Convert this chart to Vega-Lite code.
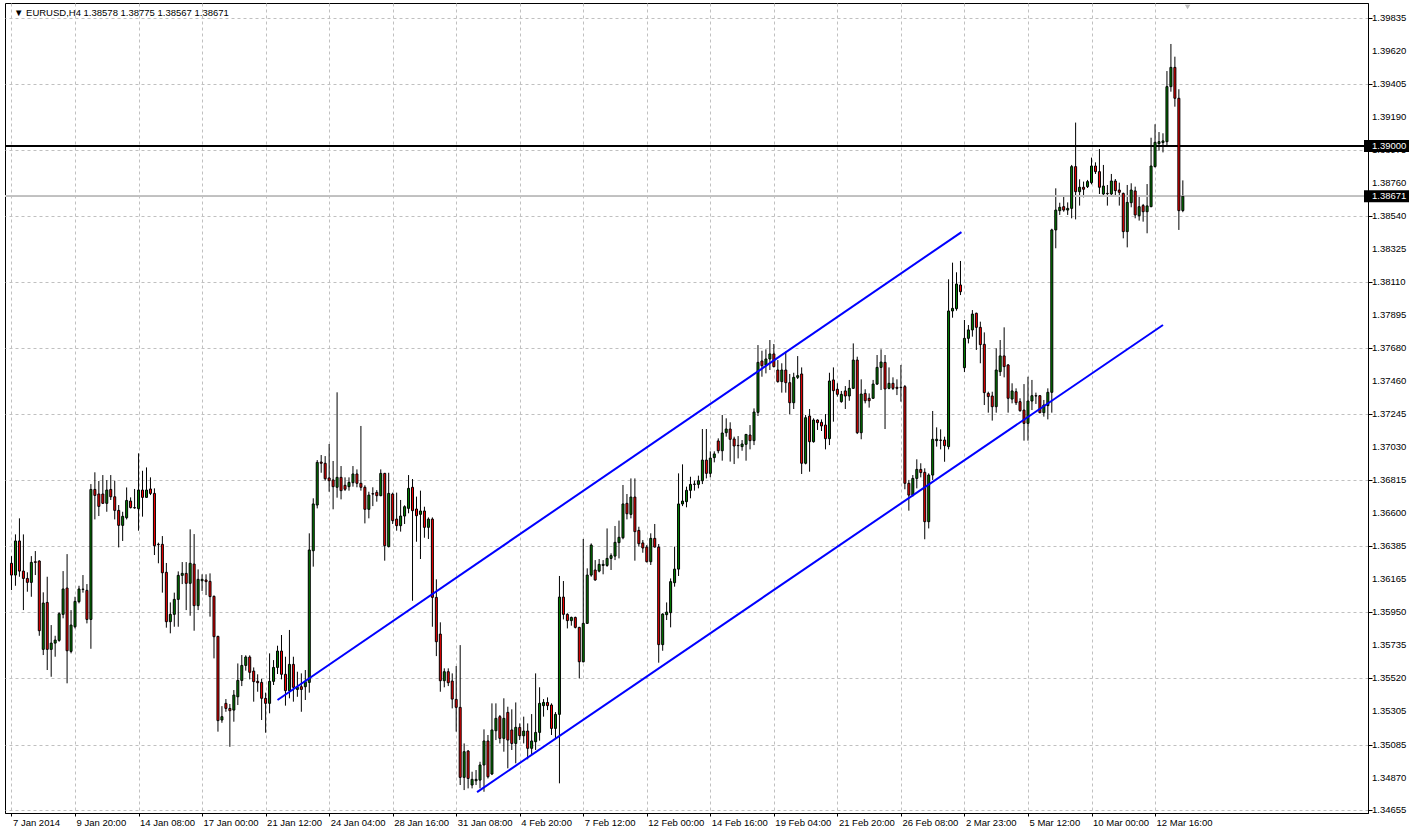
{
"$schema":"https://vega.github.io/schema/vega-lite/v6.json",
"width":1363,"height":810,
"padding":{"left":4,"top":3,"right":0,"bottom":0},
"background":"white",
"config":{"view":{"stroke":"#000000","strokeWidth":1},
"axis":{"gridColor":"#c0c0c0","gridDash":[3,3],"gridWidth":1,"domainColor":"#000000","tickColor":"#000000","labelColor":"#000000","labelFont":"Liberation Sans","labelFontSize":9.5,"title":null,"tickSize":4,"labelOverlap":false}},
"datasets":{
"candles":[
{"i":0,"o":1.36271,"h":1.36318,"l":1.36096,"c":1.36194},
{"i":1,"o":1.36194,"h":1.36460,"l":1.36124,"c":1.36417},
{"i":2,"o":1.36417,"h":1.36565,"l":1.36183,"c":1.36220},
{"i":3,"o":1.36220,"h":1.36460,"l":1.35965,"c":1.36172},
{"i":4,"o":1.36172,"h":1.36212,"l":1.36085,"c":1.36146},
{"i":5,"o":1.36146,"h":1.36318,"l":1.36052,"c":1.36277},
{"i":6,"o":1.36281,"h":1.36351,"l":1.36194,"c":1.36277},
{"i":7,"o":1.36286,"h":1.36290,"l":1.35797,"c":1.35830},
{"i":8,"o":1.35708,"h":1.36081,"l":1.35671,"c":1.36011},
{"i":9,"o":1.36015,"h":1.36183,"l":1.35573,"c":1.35708},
{"i":10,"o":1.35708,"h":1.35867,"l":1.35529,"c":1.35749},
{"i":11,"o":1.35749,"h":1.35797,"l":1.35660,"c":1.35769},
{"i":12,"o":1.35767,"h":1.35950,"l":1.35758,"c":1.35941},
{"i":13,"o":1.35937,"h":1.36220,"l":1.35911,"c":1.36103},
{"i":14,"o":1.36109,"h":1.36331,"l":1.35486,"c":1.35699},
{"i":15,"o":1.35695,"h":1.35965,"l":1.35682,"c":1.35867},
{"i":16,"o":1.35856,"h":1.36052,"l":1.35845,"c":1.36022},
{"i":17,"o":1.36020,"h":1.36124,"l":1.36009,"c":1.36103},
{"i":18,"o":1.36100,"h":1.36194,"l":1.36079,"c":1.36102},
{"i":19,"o":1.36094,"h":1.36135,"l":1.35878,"c":1.35904},
{"i":20,"o":1.35904,"h":1.36789,"l":1.35712,"c":1.36754},
{"i":21,"o":1.36754,"h":1.36866,"l":1.36558,"c":1.36715},
{"i":22,"o":1.36724,"h":1.36809,"l":1.36580,"c":1.36643},
{"i":23,"o":1.36724,"h":1.36848,"l":1.36660,"c":1.36663},
{"i":24,"o":1.36663,"h":1.36815,"l":1.36608,"c":1.36750},
{"i":25,"o":1.36754,"h":1.36848,"l":1.36685,"c":1.36706},
{"i":26,"o":1.36706,"h":1.36811,"l":1.36558,"c":1.36617},
{"i":27,"o":1.36617,"h":1.36652,"l":1.36375,"c":1.36519},
{"i":28,"o":1.36519,"h":1.36608,"l":1.36417,"c":1.36578},
{"i":29,"o":1.36569,"h":1.36767,"l":1.36558,"c":1.36682},
{"i":30,"o":1.36678,"h":1.36702,"l":1.36630,"c":1.36635},
{"i":31,"o":1.36635,"h":1.36757,"l":1.36628,"c":1.36633},
{"i":32,"o":1.36628,"h":1.36990,"l":1.36484,"c":1.36750},
{"i":33,"o":1.36750,"h":1.36876,"l":1.36576,"c":1.36702},
{"i":34,"o":1.36702,"h":1.36898,"l":1.36700,"c":1.36750},
{"i":35,"o":1.36757,"h":1.36833,"l":1.36717,"c":1.36728},
{"i":36,"o":1.36728,"h":1.36761,"l":1.36325,"c":1.36386},
{"i":37,"o":1.36395,"h":1.36406,"l":1.36271,"c":1.36393},
{"i":38,"o":1.36395,"h":1.36449,"l":1.36079,"c":1.36209},
{"i":39,"o":1.36212,"h":1.36273,"l":1.35850,"c":1.35889},
{"i":40,"o":1.35889,"h":1.36015,"l":1.35813,"c":1.35937},
{"i":41,"o":1.35937,"h":1.36079,"l":1.35856,"c":1.36035},
{"i":42,"o":1.36035,"h":1.36218,"l":1.35856,"c":1.36192},
{"i":43,"o":1.36192,"h":1.36279,"l":1.36135,"c":1.36205},
{"i":44,"o":1.36205,"h":1.36279,"l":1.35965,"c":1.36140},
{"i":45,"o":1.36140,"h":1.36493,"l":1.35928,"c":1.36271},
{"i":46,"o":1.36266,"h":1.36462,"l":1.35830,"c":1.35994},
{"i":47,"o":1.35994,"h":1.36231,"l":1.35965,"c":1.36166},
{"i":48,"o":1.36157,"h":1.36199,"l":1.36090,"c":1.36166},
{"i":49,"o":1.36162,"h":1.36199,"l":1.36063,"c":1.36151},
{"i":50,"o":1.36153,"h":1.36205,"l":1.35922,"c":1.36053},
{"i":51,"o":1.36055,"h":1.36060,"l":1.35649,"c":1.35791},
{"i":52,"o":1.35793,"h":1.35797,"l":1.35170,"c":1.35242},
{"i":53,"o":1.35246,"h":1.35337,"l":1.35228,"c":1.35268},
{"i":54,"o":1.35355,"h":1.35383,"l":1.35300,"c":1.35322},
{"i":55,"o":1.35322,"h":1.35351,"l":1.35071,"c":1.35307},
{"i":56,"o":1.35311,"h":1.35442,"l":1.35235,"c":1.35409},
{"i":57,"o":1.35398,"h":1.35616,"l":1.35344,"c":1.35505},
{"i":58,"o":1.35505,"h":1.35671,"l":1.35468,"c":1.35603},
{"i":59,"o":1.35603,"h":1.35669,"l":1.35569,"c":1.35658},
{"i":60,"o":1.35658,"h":1.35669,"l":1.35512,"c":1.35558},
{"i":61,"o":1.35566,"h":1.35590,"l":1.35366,"c":1.35497},
{"i":62,"o":1.35499,"h":1.35545,"l":1.35431,"c":1.35490},
{"i":63,"o":1.35492,"h":1.35516,"l":1.35246,"c":1.35388},
{"i":64,"o":1.35388,"h":1.35425,"l":1.35163,"c":1.35355},
{"i":65,"o":1.35355,"h":1.35682,"l":1.35290,"c":1.35499},
{"i":66,"o":1.35499,"h":1.35638,"l":1.35475,"c":1.35590},
{"i":67,"o":1.35590,"h":1.35732,"l":1.35547,"c":1.35697},
{"i":68,"o":1.35697,"h":1.35802,"l":1.35512,"c":1.35545},
{"i":69,"o":1.35545,"h":1.35660,"l":1.35340,"c":1.35438},
{"i":70,"o":1.35438,"h":1.35835,"l":1.35388,"c":1.35610},
{"i":71,"o":1.35610,"h":1.35660,"l":1.35366,"c":1.35460},
{"i":72,"o":1.35446,"h":1.35562,"l":1.35398,"c":1.35460},
{"i":73,"o":1.35464,"h":1.35551,"l":1.35300,"c":1.35446},
{"i":74,"o":1.35464,"h":1.35573,"l":1.35377,"c":1.35497},
{"i":75,"o":1.35492,"h":1.36467,"l":1.35425,"c":1.36358},
{"i":76,"o":1.36353,"h":1.36696,"l":1.36249,"c":1.36659},
{"i":77,"o":1.36652,"h":1.36946,"l":1.36630,"c":1.36931},
{"i":78,"o":1.36933,"h":1.36979,"l":1.36863,"c":1.36925},
{"i":79,"o":1.36925,"h":1.36972,"l":1.36811,"c":1.36824},
{"i":80,"o":1.36829,"h":1.37051,"l":1.36739,"c":1.36811},
{"i":81,"o":1.36816,"h":1.36940,"l":1.36624,"c":1.36772},
{"i":82,"o":1.36768,"h":1.37389,"l":1.36700,"c":1.36833},
{"i":83,"o":1.36833,"h":1.36907,"l":1.36689,"c":1.36746},
{"i":84,"o":1.36781,"h":1.36833,"l":1.36744,"c":1.36755},
{"i":85,"o":1.36772,"h":1.36833,"l":1.36746,"c":1.36800},
{"i":86,"o":1.36798,"h":1.36907,"l":1.36772,"c":1.36855},
{"i":87,"o":1.36855,"h":1.36885,"l":1.36768,"c":1.36794},
{"i":88,"o":1.36794,"h":1.37169,"l":1.36746,"c":1.36768},
{"i":89,"o":1.36768,"h":1.36781,"l":1.36532,"c":1.36624},
{"i":90,"o":1.36624,"h":1.36739,"l":1.36565,"c":1.36717},
{"i":91,"o":1.36726,"h":1.36768,"l":1.36645,"c":1.36724},
{"i":92,"o":1.36735,"h":1.36750,"l":1.36674,"c":1.36713},
{"i":93,"o":1.36713,"h":1.36885,"l":1.36710,"c":1.36859},
{"i":94,"o":1.36859,"h":1.36862,"l":1.36288,"c":1.36386},
{"i":95,"o":1.36380,"h":1.36863,"l":1.36375,"c":1.36728},
{"i":96,"o":1.36724,"h":1.36733,"l":1.36528,"c":1.36550},
{"i":97,"o":1.36560,"h":1.36733,"l":1.36484,"c":1.36517},
{"i":98,"o":1.36517,"h":1.36685,"l":1.36478,"c":1.36580},
{"i":99,"o":1.36580,"h":1.36650,"l":1.36528,"c":1.36641},
{"i":100,"o":1.36630,"h":1.36848,"l":1.36598,"c":1.36761},
{"i":101,"o":1.36768,"h":1.36822,"l":1.36026,"c":1.36615},
{"i":102,"o":1.36626,"h":1.36707,"l":1.36412,"c":1.36582},
{"i":103,"o":1.36591,"h":1.36746,"l":1.36299,"c":1.36613},
{"i":104,"o":1.36613,"h":1.36641,"l":1.36438,"c":1.36506},
{"i":105,"o":1.36506,"h":1.36571,"l":1.36430,"c":1.36560},
{"i":106,"o":1.36560,"h":1.36571,"l":1.35856,"c":1.36048},
{"i":107,"o":1.36048,"h":1.36166,"l":1.35664,"c":1.35758},
{"i":108,"o":1.35808,"h":1.35885,"l":1.35431,"c":1.35503},
{"i":109,"o":1.35503,"h":1.35584,"l":1.35460,"c":1.35562},
{"i":110,"o":1.35562,"h":1.35584,"l":1.35468,"c":1.35490},
{"i":111,"o":1.35501,"h":1.35551,"l":1.35322,"c":1.35383},
{"i":112,"o":1.35381,"h":1.35599,"l":1.35170,"c":1.35329},
{"i":113,"o":1.35329,"h":1.35736,"l":1.34821,"c":1.34871},
{"i":114,"o":1.34871,"h":1.35093,"l":1.34788,"c":1.35039},
{"i":115,"o":1.35043,"h":1.35050,"l":1.34799,"c":1.34864},
{"i":116,"o":1.34821,"h":1.34908,"l":1.34799,"c":1.34858},
{"i":117,"o":1.34849,"h":1.34919,"l":1.34821,"c":1.34858},
{"i":118,"o":1.34853,"h":1.34973,"l":1.34799,"c":1.34952},
{"i":119,"o":1.34952,"h":1.35185,"l":1.34777,"c":1.35109},
{"i":120,"o":1.35109,"h":1.35148,"l":1.34864,"c":1.34875},
{"i":121,"o":1.34893,"h":1.35355,"l":1.34886,"c":1.35181},
{"i":122,"o":1.35176,"h":1.35355,"l":1.35115,"c":1.35257},
{"i":123,"o":1.35268,"h":1.35279,"l":1.35093,"c":1.35126},
{"i":124,"o":1.35126,"h":1.35388,"l":1.35039,"c":1.35257},
{"i":125,"o":1.35296,"h":1.35333,"l":1.34930,"c":1.35115},
{"i":126,"o":1.35181,"h":1.35316,"l":1.35050,"c":1.35093},
{"i":127,"o":1.35093,"h":1.35361,"l":1.34963,"c":1.35198},
{"i":128,"o":1.35198,"h":1.35224,"l":1.35115,"c":1.35143},
{"i":129,"o":1.35143,"h":1.35268,"l":1.35093,"c":1.35174},
{"i":130,"o":1.35174,"h":1.35224,"l":1.34989,"c":1.35061},
{"i":131,"o":1.35061,"h":1.35285,"l":1.35017,"c":1.35109},
{"i":132,"o":1.35104,"h":1.35551,"l":1.35050,"c":1.35165},
{"i":133,"o":1.35165,"h":1.35460,"l":1.35111,"c":1.35355},
{"i":134,"o":1.35340,"h":1.35383,"l":1.35268,"c":1.35361},
{"i":135,"o":1.35361,"h":1.35394,"l":1.35311,"c":1.35340},
{"i":136,"o":1.35344,"h":1.35355,"l":1.35148,"c":1.35191},
{"i":137,"o":1.35191,"h":1.35298,"l":1.35126,"c":1.35283},
{"i":138,"o":1.35283,"h":1.36188,"l":1.34832,"c":1.36050},
{"i":139,"o":1.36050,"h":1.36155,"l":1.35904,"c":1.35937},
{"i":140,"o":1.35937,"h":1.35944,"l":1.35845,"c":1.35896},
{"i":141,"o":1.35896,"h":1.35922,"l":1.35863,"c":1.35917},
{"i":142,"o":1.35917,"h":1.35922,"l":1.35845,"c":1.35852},
{"i":143,"o":1.35852,"h":1.35855,"l":1.35518,"c":1.35627},
{"i":144,"o":1.35627,"h":1.36430,"l":1.35623,"c":1.35878},
{"i":145,"o":1.35878,"h":1.36238,"l":1.35874,"c":1.36194},
{"i":146,"o":1.36194,"h":1.36401,"l":1.36183,"c":1.36390},
{"i":147,"o":1.36227,"h":1.36292,"l":1.36157,"c":1.36162},
{"i":148,"o":1.36220,"h":1.36299,"l":1.36212,"c":1.36264},
{"i":149,"o":1.36257,"h":1.36292,"l":1.36199,"c":1.36264},
{"i":150,"o":1.36257,"h":1.36499,"l":1.36248,"c":1.36303},
{"i":151,"o":1.36303,"h":1.36336,"l":1.36227,"c":1.36321},
{"i":152,"o":1.36318,"h":1.36515,"l":1.36292,"c":1.36408},
{"i":153,"o":1.36406,"h":1.36550,"l":1.36303,"c":1.36441},
{"i":154,"o":1.36438,"h":1.36783,"l":1.36428,"c":1.36659},
{"i":155,"o":1.36663,"h":1.36724,"l":1.36558,"c":1.36595},
{"i":156,"o":1.36591,"h":1.36826,"l":1.36565,"c":1.36704},
{"i":157,"o":1.36704,"h":1.36826,"l":1.36288,"c":1.36478},
{"i":158,"o":1.36486,"h":1.36510,"l":1.36380,"c":1.36399},
{"i":159,"o":1.36404,"h":1.36423,"l":1.36340,"c":1.36371},
{"i":160,"o":1.36377,"h":1.36390,"l":1.36277,"c":1.36281},
{"i":161,"o":1.36281,"h":1.36467,"l":1.36260,"c":1.36434},
{"i":162,"o":1.36434,"h":1.36528,"l":1.36375,"c":1.36377},
{"i":163,"o":1.36377,"h":1.36397,"l":1.35621,"c":1.35739},
{"i":164,"o":1.35739,"h":1.35944,"l":1.35699,"c":1.35939},
{"i":165,"o":1.35935,"h":1.36015,"l":1.35900,"c":1.35952},
{"i":166,"o":1.35948,"h":1.36172,"l":1.35852,"c":1.36151},
{"i":167,"o":1.36144,"h":1.36380,"l":1.36118,"c":1.36233},
{"i":168,"o":1.36233,"h":1.36859,"l":1.36188,"c":1.36659},
{"i":169,"o":1.36659,"h":1.36918,"l":1.36645,"c":1.36678},
{"i":170,"o":1.36674,"h":1.36772,"l":1.36637,"c":1.36748},
{"i":171,"o":1.36748,"h":1.36837,"l":1.36696,"c":1.36787},
{"i":172,"o":1.36787,"h":1.36811,"l":1.36746,"c":1.36789},
{"i":173,"o":1.36787,"h":1.36844,"l":1.36761,"c":1.36811},
{"i":174,"o":1.36811,"h":1.37149,"l":1.36789,"c":1.36946},
{"i":175,"o":1.36946,"h":1.37149,"l":1.36826,"c":1.36859},
{"i":176,"o":1.36859,"h":1.37003,"l":1.36833,"c":1.36959},
{"i":177,"o":1.36962,"h":1.37003,"l":1.36931,"c":1.36986},
{"i":178,"o":1.37071,"h":1.37088,"l":1.36990,"c":1.37007},
{"i":179,"o":1.37007,"h":1.37241,"l":1.36942,"c":1.37123},
{"i":180,"o":1.37125,"h":1.37219,"l":1.37099,"c":1.37149},
{"i":181,"o":1.37149,"h":1.37193,"l":1.36936,"c":1.37082},
{"i":182,"o":1.37084,"h":1.37099,"l":1.36920,"c":1.37038},
{"i":183,"o":1.37042,"h":1.37103,"l":1.36957,"c":1.37040},
{"i":184,"o":1.37034,"h":1.37077,"l":1.37007,"c":1.37051},
{"i":185,"o":1.37049,"h":1.37116,"l":1.36942,"c":1.37114},
{"i":186,"o":1.37110,"h":1.37175,"l":1.37016,"c":1.37073},
{"i":187,"o":1.37073,"h":1.37284,"l":1.37044,"c":1.37260},
{"i":188,"o":1.37258,"h":1.37698,"l":1.37234,"c":1.37585},
{"i":189,"o":1.37594,"h":1.37661,"l":1.37491,"c":1.37563},
{"i":190,"o":1.37568,"h":1.37670,"l":1.37513,"c":1.37607},
{"i":191,"o":1.37607,"h":1.37731,"l":1.37535,"c":1.37640},
{"i":192,"o":1.37640,"h":1.37705,"l":1.37552,"c":1.37557},
{"i":193,"o":1.37535,"h":1.37600,"l":1.37452,"c":1.37459},
{"i":194,"o":1.37459,"h":1.37579,"l":1.37387,"c":1.37535},
{"i":195,"o":1.37535,"h":1.37655,"l":1.37387,"c":1.37452},
{"i":196,"o":1.37452,"h":1.37509,"l":1.37245,"c":1.37321},
{"i":197,"o":1.37321,"h":1.37517,"l":1.37280,"c":1.37487},
{"i":198,"o":1.37487,"h":1.37626,"l":1.37476,"c":1.37498},
{"i":199,"o":1.37509,"h":1.37552,"l":1.36855,"c":1.36925},
{"i":200,"o":1.36925,"h":1.37241,"l":1.36918,"c":1.37223},
{"i":201,"o":1.37234,"h":1.37280,"l":1.36870,"c":1.37066},
{"i":202,"o":1.37066,"h":1.37219,"l":1.37060,"c":1.37208},
{"i":203,"o":1.37208,"h":1.37212,"l":1.37143,"c":1.37191},
{"i":204,"o":1.37193,"h":1.37212,"l":1.37136,"c":1.37169},
{"i":205,"o":1.37175,"h":1.37247,"l":1.37016,"c":1.37086},
{"i":206,"o":1.37086,"h":1.37517,"l":1.37044,"c":1.37463},
{"i":207,"o":1.37470,"h":1.37552,"l":1.37197,"c":1.37400},
{"i":208,"o":1.37409,"h":1.37448,"l":1.37361,"c":1.37376},
{"i":209,"o":1.37328,"h":1.37398,"l":1.37321,"c":1.37376},
{"i":210,"o":1.37398,"h":1.37430,"l":1.37280,"c":1.37365},
{"i":211,"o":1.37365,"h":1.37470,"l":1.37334,"c":1.37415},
{"i":212,"o":1.37415,"h":1.37709,"l":1.37411,"c":1.37600},
{"i":213,"o":1.37600,"h":1.37622,"l":1.37116,"c":1.37125},
{"i":214,"o":1.37125,"h":1.37474,"l":1.37082,"c":1.37378},
{"i":215,"o":1.37382,"h":1.37409,"l":1.37317,"c":1.37334},
{"i":216,"o":1.37350,"h":1.37382,"l":1.37289,"c":1.37334},
{"i":217,"o":1.37350,"h":1.37470,"l":1.37346,"c":1.37443},
{"i":218,"o":1.37443,"h":1.37633,"l":1.37437,"c":1.37552},
{"i":219,"o":1.37552,"h":1.37670,"l":1.37404,"c":1.37587},
{"i":220,"o":1.37585,"h":1.37633,"l":1.37149,"c":1.37411},
{"i":221,"o":1.37415,"h":1.37552,"l":1.37409,"c":1.37448},
{"i":222,"o":1.37448,"h":1.37487,"l":1.37404,"c":1.37415},
{"i":223,"o":1.37422,"h":1.37474,"l":1.37371,"c":1.37415},
{"i":224,"o":1.37422,"h":1.37568,"l":1.37328,"c":1.37420},
{"i":225,"o":1.37426,"h":1.37437,"l":1.36755,"c":1.36794},
{"i":226,"o":1.36794,"h":1.36816,"l":1.36615,"c":1.36717},
{"i":227,"o":1.36717,"h":1.36848,"l":1.36707,"c":1.36826},
{"i":228,"o":1.36826,"h":1.36951,"l":1.36761,"c":1.36885},
{"i":229,"o":1.36885,"h":1.36925,"l":1.36833,"c":1.36864},
{"i":230,"o":1.36866,"h":1.36892,"l":1.36428,"c":1.36543},
{"i":231,"o":1.36543,"h":1.36859,"l":1.36499,"c":1.36848},
{"i":232,"o":1.36848,"h":1.37267,"l":1.36816,"c":1.37082},
{"i":233,"o":1.37073,"h":1.37160,"l":1.37034,"c":1.37082},
{"i":234,"o":1.37077,"h":1.37147,"l":1.37016,"c":1.37075},
{"i":235,"o":1.37077,"h":1.37099,"l":1.36935,"c":1.37040},
{"i":236,"o":1.37034,"h":1.38128,"l":1.37016,"c":1.37921},
{"i":237,"o":1.37921,"h":1.38237,"l":1.37877,"c":1.37938},
{"i":238,"o":1.37936,"h":1.38174,"l":1.37923,"c":1.38097},
{"i":239,"o":1.38091,"h":1.38248,"l":1.38025,"c":1.38047},
{"i":240,"o":1.37550,"h":1.37862,"l":1.37522,"c":1.37742},
{"i":241,"o":1.37742,"h":1.37829,"l":1.37709,"c":1.37797},
{"i":242,"o":1.37797,"h":1.37927,"l":1.37753,"c":1.37901},
{"i":243,"o":1.37906,"h":1.37910,"l":1.37666,"c":1.37814},
{"i":244,"o":1.37814,"h":1.37851,"l":1.37579,"c":1.37701},
{"i":245,"o":1.37703,"h":1.37781,"l":1.37306,"c":1.37387},
{"i":246,"o":1.37382,"h":1.37393,"l":1.37256,"c":1.37361},
{"i":247,"o":1.37365,"h":1.37393,"l":1.37204,"c":1.37295},
{"i":248,"o":1.37295,"h":1.37677,"l":1.37256,"c":1.37535},
{"i":249,"o":1.37524,"h":1.37731,"l":1.37496,"c":1.37627},
{"i":250,"o":1.37627,"h":1.37814,"l":1.37487,"c":1.37557},
{"i":251,"o":1.37568,"h":1.37574,"l":1.37256,"c":1.37350},
{"i":252,"o":1.37345,"h":1.37448,"l":1.37317,"c":1.37398},
{"i":253,"o":1.37393,"h":1.37415,"l":1.37306,"c":1.37321},
{"i":254,"o":1.37328,"h":1.37350,"l":1.37262,"c":1.37269},
{"i":255,"o":1.37273,"h":1.37443,"l":1.37073,"c":1.37186},
{"i":256,"o":1.37186,"h":1.37491,"l":1.37073,"c":1.37332},
{"i":257,"o":1.37332,"h":1.37470,"l":1.37273,"c":1.37367},
{"i":258,"o":1.37367,"h":1.37387,"l":1.37313,"c":1.37365},
{"i":259,"o":1.37367,"h":1.37371,"l":1.37252,"c":1.37256},
{"i":260,"o":1.37256,"h":1.37339,"l":1.37230,"c":1.37306},
{"i":261,"o":1.37302,"h":1.37415,"l":1.37212,"c":1.37389},
{"i":262,"o":1.37389,"h":1.38459,"l":1.37256,"c":1.38451},
{"i":263,"o":1.38451,"h":1.38723,"l":1.38331,"c":1.38581},
{"i":264,"o":1.38577,"h":1.38629,"l":1.38549,"c":1.38599},
{"i":265,"o":1.38603,"h":1.38679,"l":1.38570,"c":1.38581},
{"i":266,"o":1.38581,"h":1.38631,"l":1.38549,"c":1.38592},
{"i":267,"o":1.38592,"h":1.38876,"l":1.38527,"c":1.38865},
{"i":268,"o":1.38865,"h":1.39153,"l":1.38520,"c":1.38701},
{"i":269,"o":1.38701,"h":1.38782,"l":1.38610,"c":1.38730},
{"i":270,"o":1.38730,"h":1.38767,"l":1.38664,"c":1.38717},
{"i":271,"o":1.38734,"h":1.38778,"l":1.38725,"c":1.38767},
{"i":272,"o":1.38760,"h":1.38924,"l":1.38749,"c":1.38869},
{"i":273,"o":1.38869,"h":1.38893,"l":1.38817,"c":1.38832},
{"i":274,"o":1.38832,"h":1.38980,"l":1.38686,"c":1.38730},
{"i":275,"o":1.38686,"h":1.38876,"l":1.38673,"c":1.38738},
{"i":276,"o":1.38690,"h":1.38745,"l":1.38610,"c":1.38688},
{"i":277,"o":1.38686,"h":1.38817,"l":1.38679,"c":1.38771},
{"i":278,"o":1.38771,"h":1.38784,"l":1.38669,"c":1.38708},
{"i":279,"o":1.38712,"h":1.38760,"l":1.38610,"c":1.38697},
{"i":280,"o":1.38690,"h":1.38695,"l":1.38396,"c":1.38440},
{"i":281,"o":1.38440,"h":1.38745,"l":1.38337,"c":1.38631},
{"i":282,"o":1.38629,"h":1.38756,"l":1.38599,"c":1.38712},
{"i":283,"o":1.38706,"h":1.38734,"l":1.38527,"c":1.38549},
{"i":284,"o":1.38544,"h":1.38669,"l":1.38512,"c":1.38603},
{"i":285,"o":1.38610,"h":1.38621,"l":1.38505,"c":1.38570},
{"i":286,"o":1.38570,"h":1.38751,"l":1.38429,"c":1.38608},
{"i":287,"o":1.38603,"h":1.39054,"l":1.38600,"c":1.38869},
{"i":288,"o":1.38865,"h":1.39142,"l":1.38860,"c":1.39024},
{"i":289,"o":1.39015,"h":1.39091,"l":1.38969,"c":1.39028},
{"i":290,"o":1.39022,"h":1.39083,"l":1.38958,"c":1.39033},
{"i":291,"o":1.39028,"h":1.39490,"l":1.39000,"c":1.39388},
{"i":292,"o":1.39388,"h":1.39667,"l":1.39355,"c":1.39514},
{"i":293,"o":1.39514,"h":1.39584,"l":1.39257,"c":1.39312},
{"i":294,"o":1.39312,"h":1.39371,"l":1.38451,"c":1.38577},
{"i":295,"o":1.38578,"h":1.38775,"l":1.38567,"c":1.38671}
],
"trend":[{"a":67,"pa":1.35377,"b":239.25,"pb":1.38437},{"a":117.25,"pa":1.34775,"b":290,"pb":1.37829}],
"tags":[{"p":1.39,"t":"1.39000"},{"p":1.38671,"t":"1.38671"}],
"ticks":[{"v":1.39835},{"v":1.3962},{"v":1.39405},{"v":1.3919},{"v":1.38975},{"v":1.3876},{"v":1.3854},{"v":1.38325},{"v":1.3811},{"v":1.37895},{"v":1.3768},{"v":1.3746},{"v":1.37245},{"v":1.3703},{"v":1.36815},{"v":1.366},{"v":1.36385},{"v":1.36165},{"v":1.3595},{"v":1.35735},{"v":1.3552},{"v":1.35305},{"v":1.35085},{"v":1.3487},{"v":1.34655}]
},
"layer":[
{"data":{"name":"candles"},"mark":{"type":"rule","color":"#000000","strokeWidth":1},
 "encoding":{
  "x":{"field":"i","type":"quantitative","scale":{"domain":[-0.375,340.375],"nice":false,"zero":false},
   "axis":{"orient":"bottom","values":[0,16,32,48,64,80,96,112,128,144,160,176,192,208,224,240,256,272,288],"labelExpr":"['7 Jan 2014','9 Jan 20:00','14 Jan 08:00','17 Jan 00:00','21 Jan 12:00','24 Jan 04:00','28 Jan 16:00','31 Jan 08:00','4 Feb 20:00','7 Feb 12:00','12 Feb 00:00','14 Feb 16:00','19 Feb 04:00','21 Feb 20:00','26 Feb 08:00','2 Mar 23:00','5 Mar 12:00','10 Mar 00:00','12 Mar 16:00'][round(datum.value/16)]","labelAlign":"left","labelOffset":1,"labelPadding":1,"tickSize":3,"labelBaseline":"top","labelOverlap":false,"labelFlush":false,"grid":true,"title":null}},
  "y":{"field":"l","type":"quantitative","scale":{"domain":[1.34638,1.39935],"nice":false,"zero":false},
   "axis":{"orient":"right","values":[1.39835,1.3962,1.39405,1.3919,1.38975,1.3876,1.3854,1.38325,1.3811,1.37895,1.3768,1.3746,1.37245,1.3703,1.36815,1.366,1.36385,1.36165,1.3595,1.35735,1.3552,1.35305,1.35085,1.3487,1.34655],"labels":false,"grid":true,"title":null}},
  "y2":{"field":"h"}}},
{"data":{"name":"ticks"},"mark":{"type":"text","color":"#000000","align":"left","baseline":"middle","dx":9,"font":"Liberation Sans","fontSize":9.5},
 "encoding":{"x":{"datum":340.375,"type":"quantitative"},"y":{"field":"v","type":"quantitative"},"text":{"field":"v","type":"quantitative","format":".5f"}}},
{"data":{"name":"candles"},"mark":{"type":"rule","color":"#c0c0c0","strokeWidth":1},
 "encoding":{"y":{"datum":1.38671,"type":"quantitative"}}},
{"data":{"name":"candles"},"mark":{"type":"rule","color":"#000000","strokeWidth":1},
 "encoding":{"y":{"datum":1.39,"type":"quantitative"}}},
{"data":{"name":"candles"},"mark":{"type":"bar","width":2,"stroke":"#000000","strokeWidth":1},
 "encoding":{
  "x":{"field":"i","type":"quantitative"},
  "y":{"field":"o","type":"quantitative"},
  "y2":{"field":"c"},
  "fill":{"condition":{"test":"datum.c >= datum.o","value":"#008000"},"value":"#ff0000"}}},
{"data":{"name":"trend"},"mark":{"type":"rule","color":"#0000ff","strokeWidth":2},
 "encoding":{"x":{"field":"a","type":"quantitative"},"x2":{"field":"b"},"y":{"field":"pa","type":"quantitative"},"y2":{"field":"pb"}}},
{"data":{"name":"tags"},"mark":{"type":"rect","color":"#000000","xOffset":1,"x2Offset":46,"yOffset":-6,"y2Offset":6},
 "encoding":{"x":{"datum":340.375,"type":"quantitative"},"x2":{"datum":340.375},"y":{"field":"p","type":"quantitative"},"y2":{"field":"p"}}},
{"data":{"name":"tags"},"mark":{"type":"text","color":"#ffffff","align":"left","baseline":"middle","dx":9,"font":"Liberation Sans","fontSize":9.5},
 "encoding":{"x":{"datum":340.375,"type":"quantitative"},"y":{"field":"p","type":"quantitative"},"text":{"field":"t"}}},
{"data":{"values":[{"t":"▼ EURUSD,H4  1.38578 1.38775 1.38567 1.38671"}]},"mark":{"type":"text","color":"#000000","align":"left","baseline":"middle","dx":4,"dy":10,"font":"Liberation Sans","fontSize":9.5},
 "encoding":{"x":{"datum":-0.375,"type":"quantitative"},"y":{"datum":1.39935,"type":"quantitative"},"text":{"field":"t"}}},
{"data":{"values":[{"m":1}]},"mark":{"type":"point","shape":"triangle-down","filled":true,"color":"#a0a0a0","size":30,"yOffset":4},
 "encoding":{"x":{"datum":296.2,"type":"quantitative"},"y":{"datum":1.39935,"type":"quantitative"}}}
]
}
